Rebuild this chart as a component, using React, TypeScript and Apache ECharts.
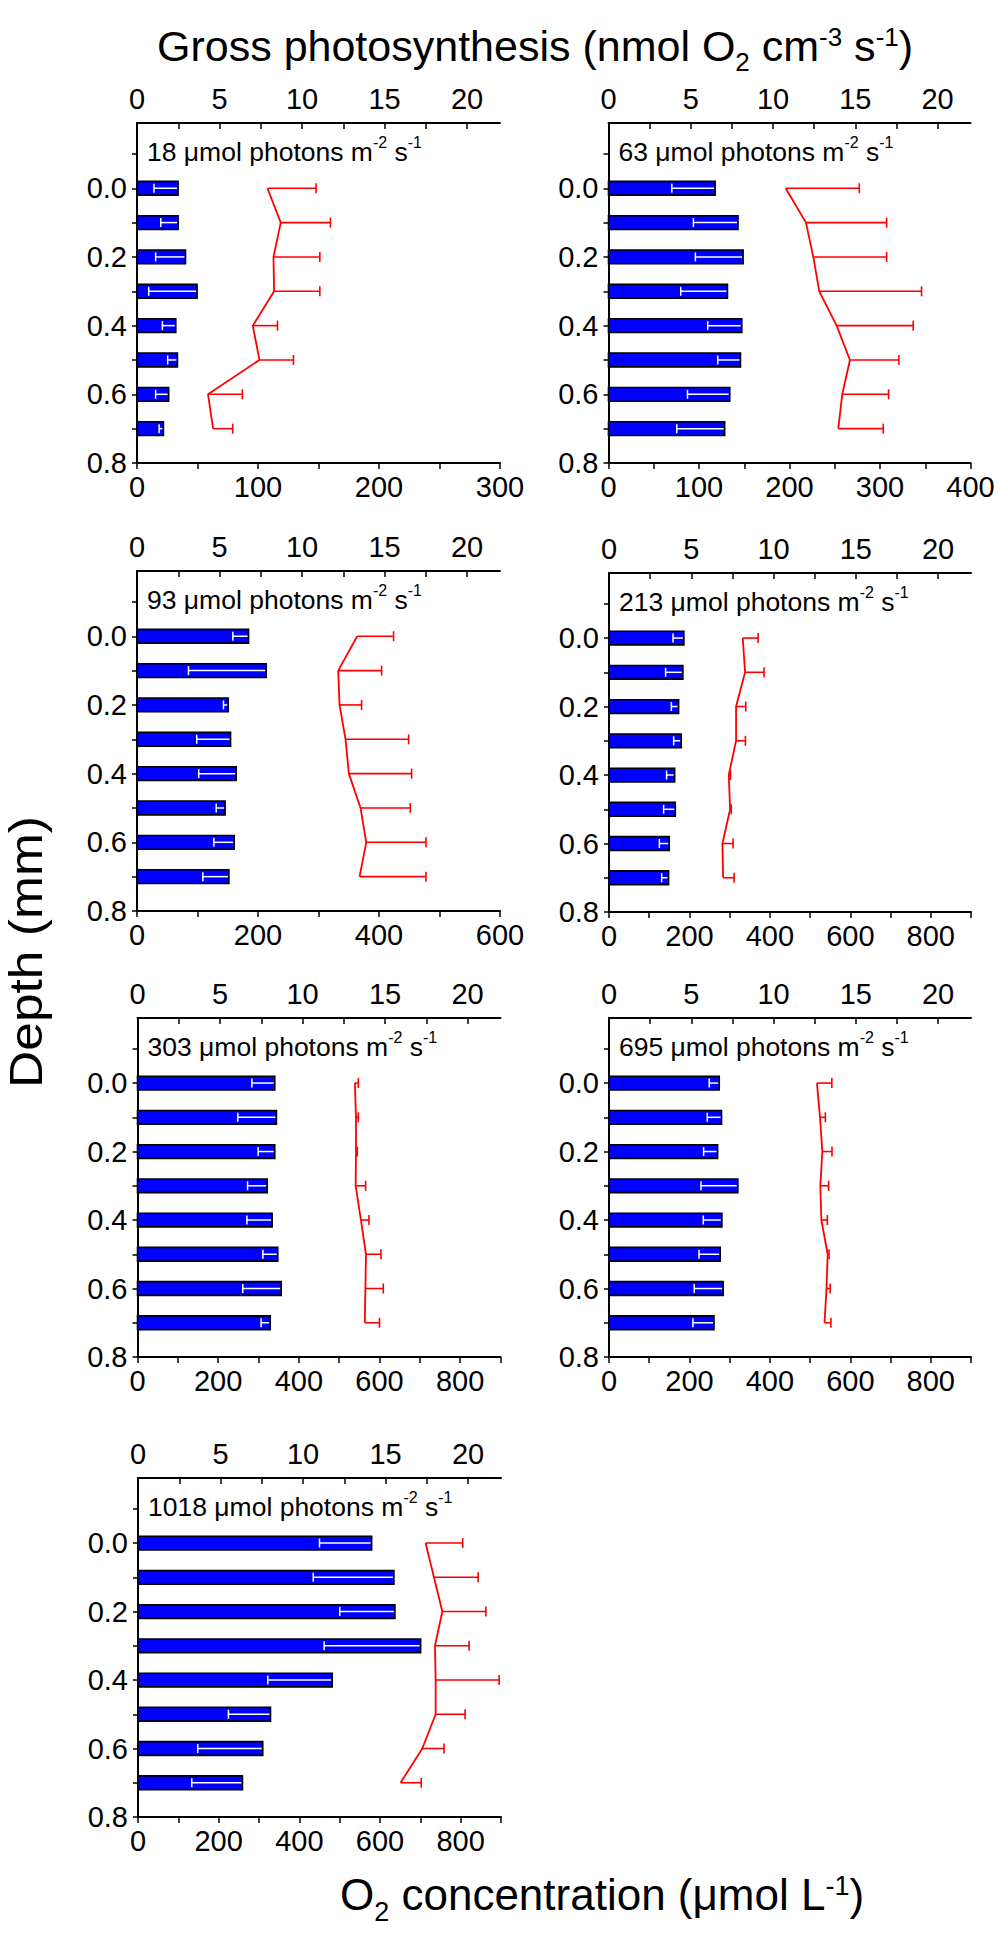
import React, { useEffect, useRef } from "react";
import * as echarts from "echarts";

const FONT = '"Liberation Sans", Arial, Helvetica, sans-serif';

// ---------- data ----------
const depths = [0, 0.1, 0.2, 0.3, 0.4, 0.5, 0.6, 0.7];
const irradiances = [18, 63, 93, 213, 303, 695, 1018];

// Gross photosynthesis (nmol O2 cm-3 s-1), mean and (minus) error
const gp18 = [2.49, 2.49, 2.94, 3.64, 2.35, 2.45, 1.92, 1.6];
const gpErr18 = [1.46, 1.05, 1.81, 2.93, 0.81, 0.59, 0.79, 0.26];
const gp63 = [6.48, 7.87, 8.18, 7.23, 8.1, 8.02, 7.37, 7.06];
const gpErr63 = [2.63, 2.71, 2.9, 2.84, 2.07, 1.38, 2.57, 2.91];
const gp93 = [6.76, 7.83, 5.53, 5.67, 6.01, 5.34, 5.89, 5.57];
const gpErr93 = [0.95, 4.71, 0.29, 2.05, 2.27, 0.54, 1.23, 1.58];
const gp213 = [4.55, 4.49, 4.23, 4.39, 3.99, 4.03, 3.66, 3.62];
const gpErr213 = [0.66, 1.05, 0.44, 0.46, 0.49, 0.71, 0.6, 0.42];
const gp303 = [8.32, 8.42, 8.32, 7.86, 8.16, 8.5, 8.71, 8.04];
const gpErr303 = [1.39, 2.34, 1.01, 1.19, 1.53, 0.9, 2.33, 0.55];
const gp695 = [6.7, 6.84, 6.6, 7.83, 6.86, 6.76, 6.94, 6.38];
const gpErr695 = [0.61, 0.87, 0.85, 2.24, 1.13, 1.29, 1.76, 1.28];
const gp1018 = [14.16, 15.51, 15.57, 17.13, 11.77, 8.03, 7.56, 6.33];
const gpErr1018 = [3.16, 4.89, 3.34, 5.85, 3.9, 2.55, 3.94, 3.07];

// O2 concentration (umol L-1), mean and (plus) error
const o2_18 = [107.8, 118.8, 112.8, 113.3, 95.7, 101.2, 58.7, 62.9];
const o2Err18 = [40.2, 41.1, 38.3, 37.8, 20.4, 28.1, 28.4, 16.2];
const o2_63 = [195.8, 218.2, 226.3, 232.9, 252.1, 266.8, 258.3, 253.9];
const o2Err63 = [81.3, 89.1, 81.0, 113.0, 84.6, 54.1, 51.2, 49.7];
const o2_93 = [364, 332.6, 334.8, 344.7, 350.2, 369.5, 378.9, 367.9];
const o2Err93 = [60.1, 71.7, 36.4, 104.2, 103.7, 82.2, 98.7, 109.7];
const o2_213 = [332.5, 338.3, 315.9, 315.9, 297.8, 301.1, 282, 283.7];
const o2Err213 = [38.1, 47.2, 24.1, 23.2, 4.2, 2.9, 26.5, 27.3];
const o2_303 = [539, 541.7, 541.7, 540.9, 554, 566.5, 565, 563.6];
const o2Err303 = [8.5, 5.8, 3.3, 24.7, 19.9, 37.1, 44.4, 36.4];
const o2_695 = [517, 524.6, 530.4, 525.4, 528, 543.7, 540.8, 535.8];
const o2Err695 = [37, 13.3, 24, 20.6, 14.8, 3.3, 9.1, 15.8];
const o2_1018 = [713, 733.8, 754.6, 736.3, 738, 738, 704.8, 651];
const o2Err1018 = [92.1, 109.5, 107.8, 84.6, 157.5, 73, 53.9, 51.3];

// ---------- axes ----------
const depthLabels = [0, 0.2, 0.4, 0.6, 0.8];
const depthTicks = [-0.1, 0, 0.1, 0.2, 0.3, 0.4, 0.5, 0.6, 0.7, 0.8];
const gpLabels = [0, 5, 10, 15, 20];
const gpTicks = [0, 2.5, 5, 7.5, 10, 12.5, 15, 17.5, 20];
const o2Labels300 = [0, 100, 200, 300];
const o2Ticks300 = [0, 50, 100, 150, 200, 250, 300];
const o2Labels400 = [0, 100, 200, 300, 400];
const o2Ticks400 = [0, 50, 100, 150, 200, 250, 300, 350, 400];
const o2Labels600 = [0, 200, 400, 600];
const o2Ticks600 = [0, 100, 200, 300, 400, 500, 600];
const o2Labels900 = [0, 200, 400, 600, 800];
const o2Ticks900 = [0, 100, 200, 300, 400, 500, 600, 700, 800, 900];

const panels = [
  { irr: irradiances[0], gp: gp18, gpErr: gpErr18, o2: o2_18, o2Err: o2Err18, o2Max: 300, o2Labels: o2Labels300, o2Ticks: o2Ticks300 },
  { irr: irradiances[1], gp: gp63, gpErr: gpErr63, o2: o2_63, o2Err: o2Err63, o2Max: 400, o2Labels: o2Labels400, o2Ticks: o2Ticks400 },
  { irr: irradiances[2], gp: gp93, gpErr: gpErr93, o2: o2_93, o2Err: o2Err93, o2Max: 600, o2Labels: o2Labels600, o2Ticks: o2Ticks600 },
  { irr: irradiances[3], gp: gp213, gpErr: gpErr213, o2: o2_213, o2Err: o2Err213, o2Max: 900, o2Labels: o2Labels900, o2Ticks: o2Ticks900 },
  { irr: irradiances[4], gp: gp303, gpErr: gpErr303, o2: o2_303, o2Err: o2Err303, o2Max: 900, o2Labels: o2Labels900, o2Ticks: o2Ticks900 },
  { irr: irradiances[5], gp: gp695, gpErr: gpErr695, o2: o2_695, o2Err: o2Err695, o2Max: 900, o2Labels: o2Labels900, o2Ticks: o2Ticks900 },
  { irr: irradiances[6], gp: gp1018, gpErr: gpErr1018, o2: o2_1018, o2Err: o2Err1018, o2Max: 900, o2Labels: o2Labels900, o2Ticks: o2Ticks900 },
];

// ---------- layout ----------
const layout = [
  { left: 137, top: 123, width: 363, height: 340 },
  { left: 608.5, top: 123, width: 362, height: 340 },
  { left: 137, top: 571, width: 363, height: 340 },
  { left: 609, top: 573, width: 362, height: 339 },
  { left: 137.5, top: 1018, width: 363, height: 339 },
  { left: 609, top: 1018, width: 362, height: 339 },
  { left: 138, top: 1478, width: 363, height: 339 },
];

const BAR_DEPTH = 0.04;
const TICK_FS = 29;

function renderBar(params: any, api: any) {
  const v = api.value(0);
  const d = api.value(1);
  const e = api.value(2);
  const p0 = api.coord([0, d]);
  const p1 = api.coord([v, d]);
  const pe = api.coord([v - e, d]);
  const h = api.size([0, BAR_DEPTH])[1];
  return {
    type: "group",
    children: [
      {
        type: "rect",
        shape: { x: p0[0], y: p0[1] - h / 2, width: p1[0] - p0[0], height: h },
        style: { fill: "#0000ff", stroke: "#000000", lineWidth: 1.6 },
      },
      {
        type: "line",
        shape: { x1: pe[0], y1: pe[1], x2: p1[0] - 1, y2: p1[1] },
        style: { stroke: "#ffffff", lineWidth: 1.5 },
      },
      {
        type: "line",
        shape: { x1: pe[0], y1: pe[1] - 4.5, x2: pe[0], y2: pe[1] + 4.5 },
        style: { stroke: "#ffffff", lineWidth: 1.5 },
      },
    ],
  };
}

function renderO2Err(params: any, api: any) {
  const v = api.value(0);
  const d = api.value(1);
  const e = api.value(2);
  const p0 = api.coord([v, d]);
  const p1 = api.coord([v + e, d]);
  return {
    type: "group",
    children: [
      {
        type: "line",
        shape: { x1: p0[0], y1: p0[1], x2: p1[0], y2: p1[1] },
        style: { stroke: "#ff0000", lineWidth: 1.6 },
      },
      {
        type: "line",
        shape: { x1: p1[0], y1: p1[1] - 5, x2: p1[0], y2: p1[1] + 5 },
        style: { stroke: "#ff0000", lineWidth: 1.6 },
      },
    ],
  };
}

function buildOption() {
  const grid: any[] = [];
  const xAxis: any[] = [];
  const yAxis: any[] = [];
  const series: any[] = [];
  const graphic: any[] = [];

  const axisLine = { show: true, onZero: false, lineStyle: { color: "#000", width: 2 } };
  const labelBase = { color: "#000", fontFamily: FONT, fontSize: TICK_FS, hideOverlap: false };

  panels.forEach((p, i) => {
    const L = layout[i];
    grid.push({ left: L.left, top: L.top, width: L.width, height: L.height, containLabel: false, outerBoundsMode: "none" });

    // top: gross photosynthesis
    xAxis.push({
      type: "value",
      gridIndex: i,
      position: "top",
      min: 0,
      max: 22,
      axisLine,
      axisTick: { show: true, inside: true, length: 6, customValues: gpTicks, lineStyle: { color: "#000", width: 1.5 } },
      axisLabel: { ...labelBase, customValues: gpLabels, margin: 10 },
      splitLine: { show: false },
    });
    // bottom: O2 concentration
    xAxis.push({
      type: "value",
      gridIndex: i,
      position: "bottom",
      min: 0,
      max: p.o2Max,
      axisLine,
      axisTick: { show: true, inside: false, length: 6, customValues: p.o2Ticks, lineStyle: { color: "#000", width: 1.5 } },
      axisLabel: { ...labelBase, customValues: p.o2Labels, margin: 9 },
      splitLine: { show: false },
    });
    yAxis.push({
      type: "value",
      gridIndex: i,
      inverse: true,
      min: -0.19,
      max: 0.8,
      axisLine,
      axisTick: { show: true, inside: false, length: 5, customValues: depthTicks, lineStyle: { color: "#000", width: 1.5 } },
      axisLabel: { ...labelBase, customValues: depthLabels, margin: 10, formatter: (v: number) => v.toFixed(1) },
      splitLine: { show: false },
    });

    series.push({
      type: "custom",
      xAxisIndex: 2 * i,
      yAxisIndex: i,
      data: depths.map((d, k) => [p.gp[k], d, p.gpErr[k]]),
      renderItem: renderBar,
      z: 2,
      silent: true,
    });
    series.push({
      type: "line",
      xAxisIndex: 2 * i + 1,
      yAxisIndex: i,
      data: depths.map((d, k) => [p.o2[k], d]),
      symbol: "none",
      showSymbol: false,
      lineStyle: { color: "#ff0000", width: 1.8 },
      z: 3,
      silent: true,
    });
    series.push({
      type: "custom",
      xAxisIndex: 2 * i + 1,
      yAxisIndex: i,
      data: depths.map((d, k) => [p.o2[k], d, p.o2Err[k]]),
      renderItem: renderO2Err,
      z: 3,
      silent: true,
    });

    graphic.push({
      type: "text",
      left: L.left + 10,
      top: L.top + 11,
      style: {
        text: `{n|${p.irr} μmol photons m}{sup|-2}{n| s}{sup|-1}`,
        fill: "#000",
        rich: {
          n: { fontFamily: FONT, fontSize: 26.5, lineHeight: 26, padding: [4, 0, 0, 0], verticalAlign: "top", fill: "#000" },
          sup: { fontFamily: FONT, fontSize: 16, lineHeight: 16, verticalAlign: "top", fill: "#000" },
        },
      },
    });
  });

  // figure titles
  graphic.push({
    type: "text",
    left: 157,
    top: 24,
    style: {
      text: "{n|Gross photosynthesis (nmol O}{sub|2}{n| cm}{sup|-3}{n| s}{sup|-1}{n|)}",
      fill: "#000",
      rich: {
        n: { fontFamily: FONT, fontSize: 43, lineHeight: 43, verticalAlign: "top", fill: "#000" },
        sup: { fontFamily: FONT, fontSize: 26, lineHeight: 26, verticalAlign: "top", fill: "#000" },
        sub: { fontFamily: FONT, fontSize: 26, lineHeight: 26, padding: [25, 0, 0, 0], verticalAlign: "top", fill: "#000" },
      },
    },
  });
  graphic.push({
    type: "text",
    left: 340,
    top: 1872,
    style: {
      text: "{n|O}{sub|2}{n| concentration (μmol L}{sup|-1}{n|)}",
      fill: "#000",
      rich: {
        n: { fontFamily: FONT, fontSize: 44, lineHeight: 44, verticalAlign: "top", fill: "#000" },
        sup: { fontFamily: FONT, fontSize: 27, lineHeight: 27, verticalAlign: "top", fill: "#000" },
        sub: { fontFamily: FONT, fontSize: 27, lineHeight: 27, padding: [26, 0, 0, 0], verticalAlign: "top", fill: "#000" },
      },
    },
  });
  graphic.push({
    type: "text",
    x: 26,
    y: 952,
    rotation: Math.PI / 2,
    scaleX: 1.12,
    scaleY: 1,
    style: {
      text: "Depth (mm)",
      fontFamily: FONT,
      fontSize: 46,
      fill: "#000",
      align: "center",
      verticalAlign: "middle",
    },
  });

  return {
    animation: false,
    backgroundColor: "#ffffff",
    grid,
    xAxis,
    yAxis,
    series,
    graphic,
  };
}

export default function App() {
  const ref = useRef<HTMLDivElement | null>(null);
  useEffect(() => {
    document.body.style.margin = "0";
    if (!ref.current) return;
    const chart = echarts.init(ref.current, undefined, { renderer: "svg" });
    chart.setOption(buildOption() as any);
    return () => {
      chart.dispose();
    };
  }, []);
  return <div ref={ref} style={{ width: 1000, height: 1937, background: "#fff" }} />;
}
